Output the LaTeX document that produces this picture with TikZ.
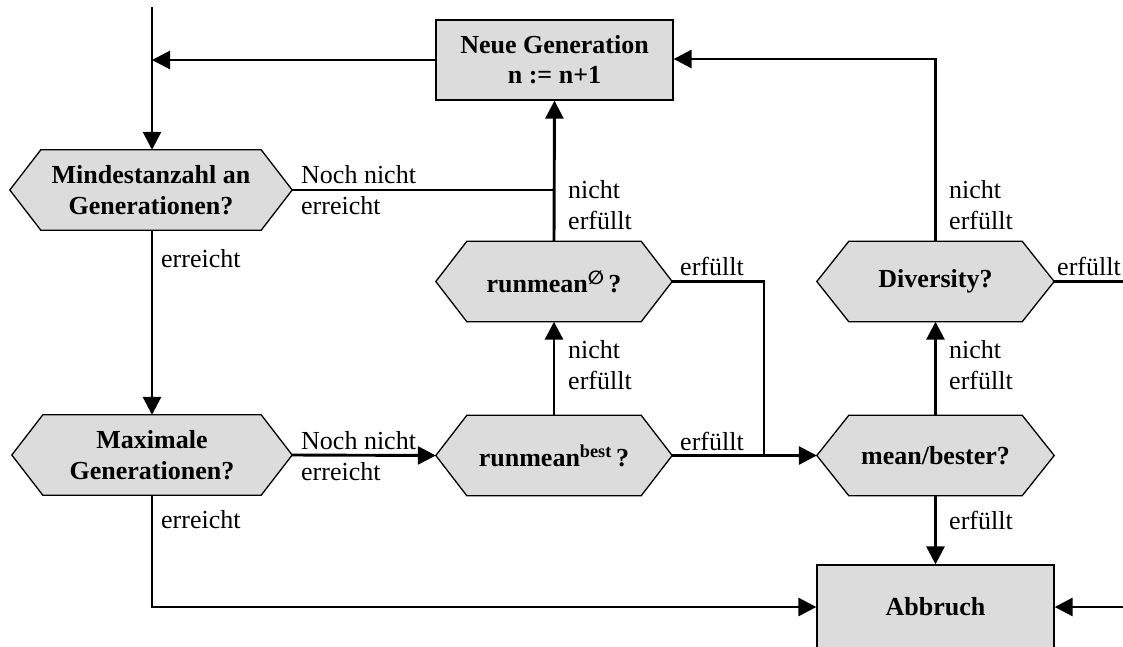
\documentclass[tikz,border=0pt]{standalone}
\usepackage{fontspec}
\setmainfont{Liberation Serif}
\newfontfamily\symfont{DejaVu Sans}
\usetikzlibrary{arrows.meta,calc}
\pgfdeclarelayer{background}
\pgfsetlayers{background,main}
\definecolor{boxgray}{RGB}{220,220,220}

\tikzset{
  flow/.style={line width=2.9pt, -{Triangle[length=18pt,width=18pt]}},
  link/.style={line width=2.9pt},
  qtext/.style={rectangle, inner sep=0pt, align=center,
    font=\fontsize{26}{31}\selectfont\bfseries, minimum height=80pt},
  procbox/.style={rectangle, draw=black, line width=1.3pt, fill=boxgray,
    inner sep=0pt, align=center, font=\fontsize{26}{30}\selectfont\bfseries,
    minimum width=237pt},
  hexshape/.style={draw=black, line width=1.3pt, fill=boxgray},
  lbl/.style={inner sep=0pt, align=left, anchor=west,
    font=\fontsize{26}{30.5}\selectfont},
}

% decision node: name, centre, width, chamfer, text
\newcommand\decision[5]{%
  \node[qtext, minimum width=#3] (#1) at (#2) {#5};
  \begin{pgfonlayer}{background}
    \draw[hexshape] (#1.west) -- ($(#1.north west)+(#4,0)$)
      -- ($(#1.north east)+(-#4,0)$) -- (#1.east)
      -- ($(#1.south east)+(-#4,0)$) -- ($(#1.south west)+(#4,0)$) -- cycle;
  \end{pgfonlayer}
}
% raised empty-set sign after "runmean"
\newcommand\avgsign{\raisebox{8pt}{\symfont\fontsize{19}{19}\selectfont ∅}}

\begin{document}
\begin{tikzpicture}[x=1pt, y=-1pt]
\useasboundingbox (0,0) rectangle (1123,646);
\clip (0,0) rectangle (1123,646);

% process boxes
\node[procbox, minimum height=80pt] (neu) at (554.5,60) {Neue Generation\\n := n+1};
\node[procbox, minimum height=84pt] (stop) at (935.5,607) {Abbruch};

% decisions
\decision{mind}{151,190}{282pt}{31}{Mindestanzahl an\\Generationen?}
\decision{maxg}{152,455}{280pt}{31}{Maximale\\Generationen?}
\decision{rmavg}{554,281.5}{236pt}{31}{runmean\avgsign\,?}
\decision{rmbest}{554,455.5}{236pt}{31}{runmean\textsuperscript{best}\,?}
\decision{div}{935.5,281.5}{237pt}{32}{Diversity?}
\decision{mean}{935.5,455.5}{237pt}{32}{mean/bester?}

% free ends and bends
\coordinate (in) at (152,7);
\coordinate (joinA) at (553,190);
\coordinate (bendA) at (764,281.5);
\coordinate (bendB) at (935.5,59);
\coordinate (outD) at (1123,281.5);
\coordinate (inR) at (1123,607);

% connectors
\draw[flow] (in) -- (in |- mind.north);
\draw[flow] (neu.west) -- (in |- neu.west);
\draw[flow] (mind.south -| in) -- (maxg.north -| in);
\draw[link] (mind.east) -- (joinA);
\draw[flow] (rmavg.north) -- (neu.south);
\draw[flow] (rmbest.north) -- (rmavg.south);
\draw[flow] (maxg.east) -- (rmbest.west);
\draw[flow] (rmbest.east) -- (mean.west);
\draw[link] (rmavg.east) -- (bendA) -- (bendA |- mean.west);
\draw[flow] (mean.north) -- (div.south);
\draw[flow] (div.north) -- (bendB) -- (bendB -| neu.east);
\draw[link] (div.east) -- (outD);
\draw[flow] (mean.south) -- (stop.north);
\draw[flow] (maxg.south -| in) -- (in |- stop.west) -- (stop.west);
\draw[flow] (inR) -- (stop.east);

% labels
\node[lbl] (l1) at (161,259) {erreicht};
\node[lbl] (l2) at (301,190) {Noch nicht\\erreicht};
\node[lbl] (l3) at (568,205) {nicht\\erfüllt};
\node[lbl] (l4) at (568,365) {nicht\\erfüllt};
\node[lbl] (l5) at (301,456) {Noch nicht\\erreicht};
\node[lbl] (l6) at (680,266) {erfüllt};
\node[lbl] (l7) at (680,441) {erfüllt};
\node[lbl] (l8) at (949,205) {nicht\\erfüllt};
\node[lbl] (l9) at (949,365) {nicht\\erfüllt};
\node[lbl] (l10) at (1057,266) {erfüllt};
\node[lbl] (l11) at (949,520) {erfüllt};
\node[lbl] (l12) at (161,520) {erreicht};
\end{tikzpicture}
\end{document}
